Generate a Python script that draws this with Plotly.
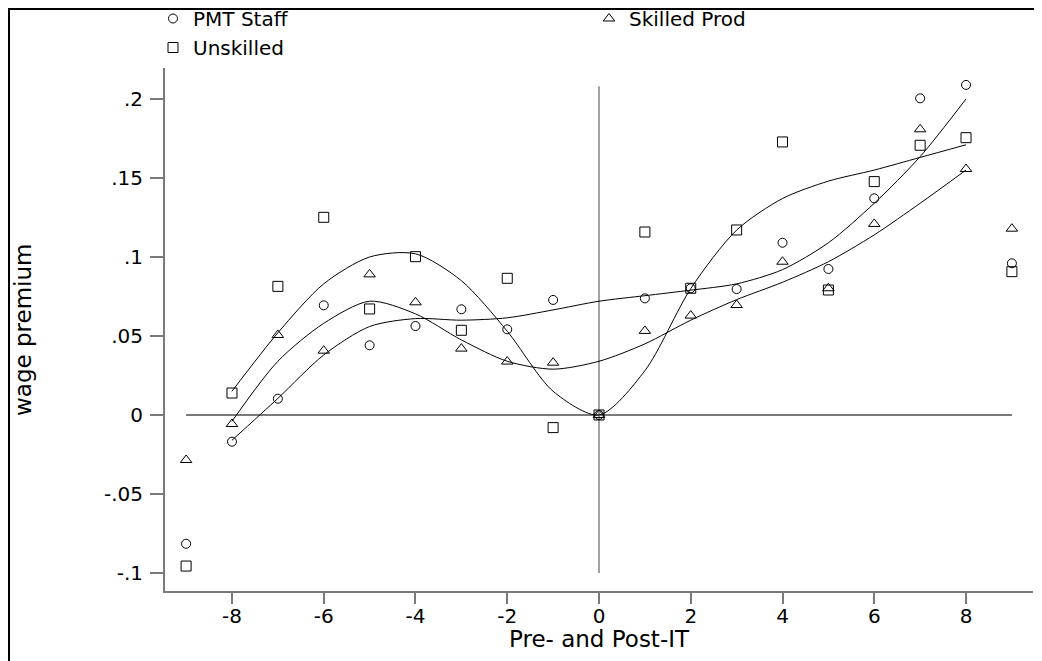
import plotly.graph_objects as go

# ---- data ----
periods = [-9, -8, -7, -6, -5, -4, -3, -2, -1, 0, 1, 2, 3, 4, 5, 6, 7, 8, 9]
pmt_staff = [-0.0815, -0.0169, 0.0103, 0.0694, 0.0441, 0.0563, 0.0669, 0.0542, 0.0728, 0.0,
             0.0738, 0.0802, 0.0797, 0.109, 0.0924, 0.1371, 0.2004, 0.2089, 0.096]
skilled_prod = [-0.0285, -0.0057, 0.0506, 0.0407, 0.089, 0.0713, 0.042, 0.0338, 0.0331, 0.0,
                0.0532, 0.0629, 0.0696, 0.097, 0.0802, 0.1209, 0.1808, 0.1557, 0.1179]
unskilled = [-0.0956, 0.0139, 0.0814, 0.1251, 0.0671, 0.1002, 0.0536, 0.0865, -0.008, 0.0,
             0.1158, 0.0802, 0.1171, 0.1728, 0.0791, 0.1477, 0.1707, 0.1755, 0.0907]

fit_periods = [-8, -7, -6, -5, -4, -3, -2, -1, 0, 1, 2, 3, 4, 5, 6, 7, 8]
pmt_fit = [-0.016, 0.0105, 0.038, 0.056, 0.061, 0.060, 0.0615, 0.0665, 0.072, 0.0755,
           0.079, 0.083, 0.092, 0.109, 0.134, 0.1635, 0.200]
skilled_fit = [-0.004, 0.034, 0.058, 0.072, 0.064, 0.0475, 0.034, 0.029, 0.034, 0.045,
               0.060, 0.073, 0.084, 0.097, 0.114, 0.134, 0.155]
unskilled_fit = [0.015, 0.052, 0.083, 0.100, 0.102, 0.085, 0.053, 0.015, 0.0, 0.028,
                 0.080, 0.117, 0.137, 0.148, 0.155, 0.163, 0.171]

x_ticks = [-8, -6, -4, -2, 0, 2, 4, 6, 8]
x_tick_labels = ['-8', '-6', '-4', '-2', '0', '2', '4', '6', '8']
y_ticks = [-0.1, -0.05, 0, 0.05, 0.1, 0.15, 0.2]
y_tick_labels = ['-.1', '-.05', '0', '.05', '.1', '.15', '.2']

x_ref_span = [-9, 9]
y_ref_span = [-0.1, 0.208]

FONT = "DejaVu Sans"
GRAY = "#7a7a7a"

fig = go.Figure()

# reference lines (x = 0 and y = 0)
fig.add_trace(go.Scatter(x=x_ref_span, y=[0, 0], mode="lines",
                         line=dict(color=GRAY, width=2), showlegend=False, hoverinfo="skip"))
fig.add_trace(go.Scatter(x=[0, 0], y=y_ref_span, mode="lines",
                         line=dict(color=GRAY, width=1.4), showlegend=False, hoverinfo="skip"))

# fitted curves
for fy in (pmt_fit, skilled_fit, unskilled_fit):
    fig.add_trace(go.Scatter(x=fit_periods, y=fy, mode="lines",
                             line=dict(color="black", width=1, shape="spline", smoothing=0.8),
                             showlegend=False, hoverinfo="skip"))

# markers (legend order: PMT Staff, Skilled Prod, Unskilled)
fig.add_trace(go.Scatter(x=periods, y=pmt_staff, mode="markers", name="PMT Staff",
                         marker=dict(symbol="circle-open", size=9, color="black",
                                     line=dict(width=1, color="black"))))
fig.add_trace(go.Scatter(x=periods, y=skilled_prod, mode="markers", name="Skilled Prod",
                         marker=dict(symbol="triangle-up-open", size=10, color="black",
                                     line=dict(width=1, color="black"))))
fig.add_trace(go.Scatter(x=periods, y=unskilled, mode="markers", name="Unskilled",
                         marker=dict(symbol="square-open", size=10, color="black",
                                     line=dict(width=1, color="black"))))

# page body adds an 8 px offset; positions below are given in screen pixels
OFF = 8
W, H = 1042, 661
PL, PR, PT, PB = 165, 1033, 68, 591          # plot area edges on screen
L, T = PL - OFF, PT - OFF
R, B = W - (PR - OFF), H - (PB - OFF)
pw, ph = W - L - R, H - T - B

def px_x(p):
    return (p - OFF - L) / pw

def px_y(p):
    return (H - B - (p - OFF)) / ph

fig.update_layout(
    width=W, height=H,
    margin=dict(l=L, r=R, t=T, b=B, autoexpand=False),
    paper_bgcolor="white", plot_bgcolor="white",
    font=dict(family=FONT, color="black", size=20),
    showlegend=True,
    legend=dict(orientation="h", x=px_x(153), xanchor="left", y=px_y(-1), yanchor="top",
                entrywidth=391, entrywidthmode="pixels", traceorder="normal",
                font=dict(family=FONT, size=20, color="black"),
                bgcolor="rgba(0,0,0,0)", borderwidth=0, itemclick=False),
    xaxis=dict(range=[-9.46, 9.46], tickvals=x_ticks, ticktext=x_tick_labels,
               ticks="outside", ticklen=11, ticklabelstandoff=-5,
               tickwidth=1.5, tickcolor=GRAY, showline=True, linecolor=GRAY, linewidth=2,
               showgrid=False, zeroline=False, tickfont=dict(family=FONT, size=20)),
    yaxis=dict(range=[-0.1114, 0.2196], tickvals=y_ticks, ticktext=y_tick_labels,
               ticks="outside", ticklen=13, ticklabelstandoff=3, tickwidth=1.5, tickcolor=GRAY,
               showline=True, linecolor=GRAY, linewidth=2, showgrid=False, zeroline=False,
               tickfont=dict(family=FONT, size=20)),
    annotations=[
        dict(text="Pre- and Post-IT", xref="paper", yref="paper",
             x=px_x(599), y=px_y(639), xanchor="center", yanchor="middle",
             showarrow=False, font=dict(family=FONT, size=23)),
        dict(text="wage premium", xref="paper", yref="paper",
             x=px_x(23), y=px_y(330), xanchor="center", yanchor="middle", textangle=-90,
             showarrow=False, font=dict(family=FONT, size=23)),
    ],
    shapes=[
        dict(type="rect", xref="paper", yref="paper",
             x0=px_x(9), x1=px_x(1060), y0=px_y(680), y1=px_y(9),
             line=dict(color="black", width=2), fillcolor="rgba(0,0,0,0)", layer="above"),
    ],
)

fig.write_html("out.html")
